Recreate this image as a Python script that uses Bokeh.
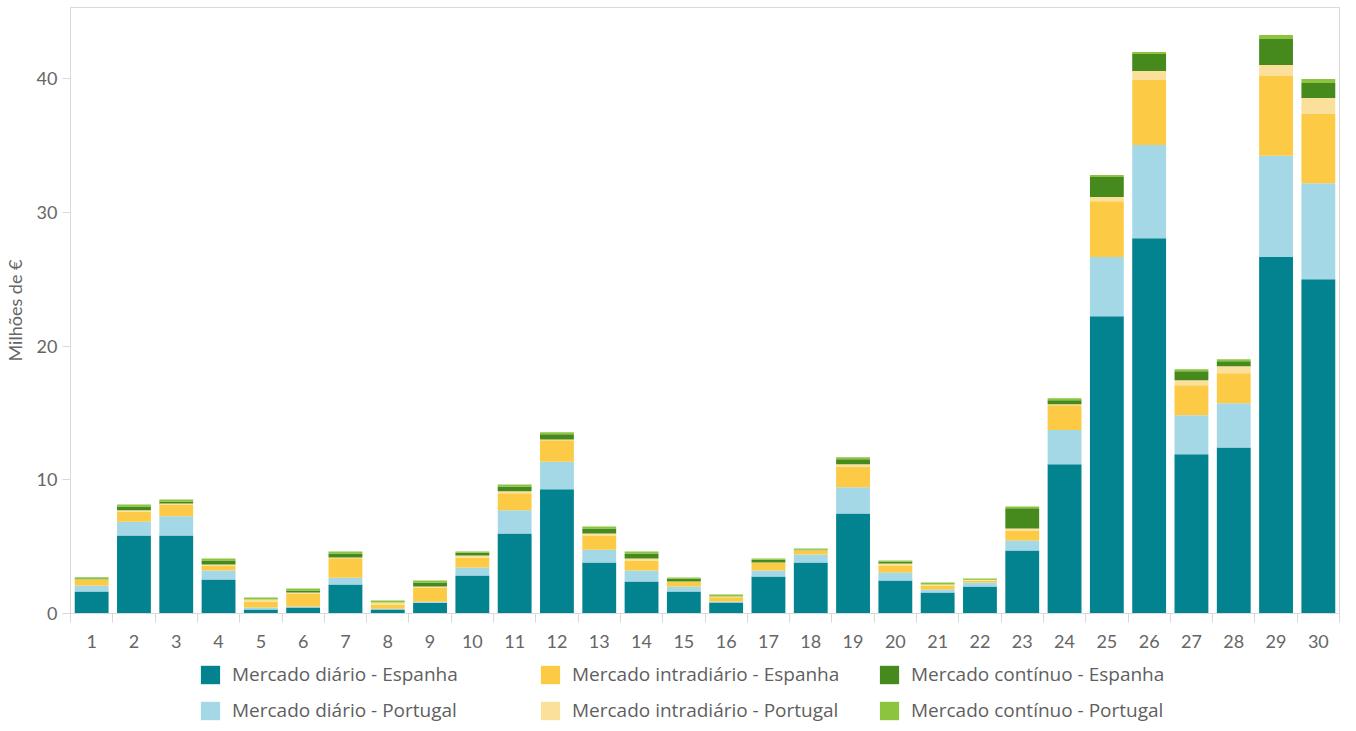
from bokeh.plotting import figure
from bokeh.layouts import column
from bokeh.models import FixedTicker, Range1d, Legend, LegendItem, ColumnDataSource
from bokeh.embed import file_html
from bokeh.resources import INLINE

days = list(range(1, 31))
day_labels = [str(d) for d in days]

diario_es = [1.65, 5.84, 5.84, 2.55, 0.30, 0.45, 2.17, 0.30, 0.80, 2.85,
             5.99, 9.29, 3.82, 2.40, 1.65, 0.82, 2.77, 3.82, 7.49, 2.47,
             1.57, 2.02, 4.72, 11.16, 22.25, 28.09, 11.91, 12.43, 26.67, 25.02]
diario_pt = [0.45, 1.03, 1.43, 0.67, 0.15, 0.07, 0.50, 0.05, 0.07, 0.60,
             1.73, 2.07, 0.95, 0.82, 0.37, 0.08, 0.45, 0.60, 1.95, 0.60,
             0.23, 0.30, 0.75, 2.57, 4.42, 6.97, 2.92, 3.30, 7.59, 7.18]
intra_es = [0.40, 0.77, 0.89, 0.38, 0.45, 0.93, 1.47, 0.32, 1.08, 0.74,
            1.27, 1.60, 1.07, 0.75, 0.33, 0.32, 0.55, 0.30, 1.57, 0.53,
            0.30, 0.15, 0.75, 1.85, 4.19, 4.87, 2.25, 2.25, 5.96, 5.18]
intra_pt = [0.05, 0.08, 0.08, 0.07, 0.15, 0.12, 0.05, 0.15, 0.07, 0.15,
            0.15, 0.07, 0.15, 0.15, 0.05, 0.05, 0.05, 0.02, 0.15, 0.15,
            0.07, 0.03, 0.15, 0.08, 0.30, 0.67, 0.37, 0.52, 0.83, 1.20]
cont_es = [0.02, 0.29, 0.15, 0.30, 0.00, 0.15, 0.30, 0.00, 0.30, 0.20,
           0.37, 0.38, 0.38, 0.37, 0.20, 0.00, 0.20, 0.03, 0.38, 0.12,
           0.00, 0.02, 1.50, 0.30, 1.50, 1.27, 0.68, 0.38, 1.95, 1.12]
cont_pt = [0.15, 0.15, 0.15, 0.15, 0.15, 0.15, 0.15, 0.15, 0.15, 0.10,
           0.15, 0.15, 0.15, 0.15, 0.10, 0.15, 0.10, 0.10, 0.15, 0.10,
           0.15, 0.10, 0.14, 0.15, 0.15, 0.15, 0.15, 0.15, 0.30, 0.30]

series_names = ["Mercado diário - Espanha", "Mercado diário - Portugal",
                "Mercado intradiário - Espanha", "Mercado intradiário - Portugal",
                "Mercado contínuo - Espanha", "Mercado contínuo - Portugal"]
colors = ["#02838F", "#A5D8E6", "#FCCA45", "#FAE09A", "#46891C", "#8CC43F"]
keys = ["d_es", "d_pt", "i_es", "i_pt", "c_es", "c_pt"]

source = ColumnDataSource(dict(x=days, d_es=diario_es, d_pt=diario_pt, i_es=intra_es,
                               i_pt=intra_pt, c_es=cont_es, c_pt=cont_pt))

FONT = "Lato"
LEG_FONT = "Open Sans"
GREY = "#666666"
LINE = "#d9d9d9"

p = figure(width=1340, height=655, x_range=Range1d(0.5, 30.5), y_range=Range1d(0, 45.35),
           output_backend="svg", toolbar_location=None,
           min_border_left=62, min_border_right=1, min_border_top=7, min_border_bottom=42)

p.vbar_stack(keys, x="x", width=0.8, source=source, color=colors, line_color=None)

p.xgrid.visible = False
p.ygrid.visible = False
p.outline_line_color = LINE
p.outline_line_width = 1

xa = p.xaxis[0]
xa.ticker = FixedTicker(ticks=days, minor_ticks=[d + 0.5 for d in range(0, 31)])
xa.major_label_overrides = {d: s for d, s in zip(days, day_labels)}
xa.major_tick_out = 0
xa.major_tick_in = 0
xa.minor_tick_out = 9
xa.minor_tick_in = 0
xa.minor_tick_line_color = LINE
xa.axis_line_color = LINE
xa.major_label_standoff = 12
xa.major_label_text_font = FONT
xa.major_label_text_font_size = "18px"
xa.major_label_text_color = GREY

ya = p.yaxis[0]
ya.ticker = FixedTicker(ticks=[0, 10, 20, 30, 40])
ya.minor_tick_line_color = None
ya.major_tick_out = 8
ya.major_tick_in = 0
ya.major_tick_line_color = LINE
ya.axis_line_color = None
ya.major_label_standoff = 5
ya.major_label_text_font = FONT
ya.major_label_text_font_size = "18px"
ya.major_label_text_color = GREY
ya.axis_label = "Milhões de €"
ya.axis_label_text_font = FONT
ya.axis_label_text_font_size = "18px"
ya.axis_label_text_font_style = "normal"
ya.axis_label_text_color = GREY
ya.axis_label_standoff = 8

# legend-only figure below the chart (frame aligned with the chart frame)
lf = figure(width=1340, height=68, x_range=Range1d(0, 1), y_range=Range1d(0, 1),
            output_backend="svg", toolbar_location=None,
            x_axis_type=None, y_axis_type=None,
            min_border_left=62, min_border_right=1, min_border_top=0, min_border_bottom=0)
lf.xgrid.visible = False
lf.ygrid.visible = False
lf.outline_line_color = None
# zero-height swatch renderers, so each legend entry can draw its colour box
swatches = [lf.vbar(x=[0.5], top=[0], bottom=[0], width=0.01, color=c, line_color=None)
            for c in colors]

col_x = [128, 468, 807]
for k in range(3):
    items = [LegendItem(label=series_names[2 * k + j], renderers=[swatches[2 * k + j]])
             for j in range(2)]
    lg = Legend(items=items, orientation="vertical",
                location=(col_x[k], 0), padding=0, margin=0, spacing=10,
                glyph_width=24, glyph_height=23, label_standoff=10,
                label_text_font=LEG_FONT, label_text_font_size="19px",
                label_text_color="#5f5f5f", border_line_color=None,
                background_fill_alpha=0, label_height=23)
    lf.add_layout(lg, "center")

layout = column(p, lf, spacing=0)
open("out.html", "w").write(file_html(layout, INLINE))
